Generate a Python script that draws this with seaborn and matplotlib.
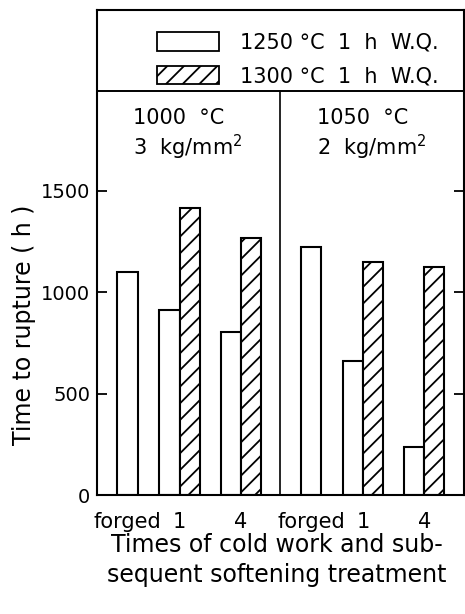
import numpy as np
import pandas as pd
import matplotlib
matplotlib.use("Agg")
import matplotlib.pyplot as plt
from matplotlib.patches import Patch
import seaborn as sns

# ---- data ----
conditions = ["1000 °C", "1050 °C"]
stresses = ["3 kg/mm$^{2}$", "2 kg/mm$^{2}$"]
treatments = ["forged", "1", "4"]
series = ["1250 °C 1 h W.Q.", "1300 °C 1 h W.Q."]
vals_1250_c1000 = [1100, 910, 805]
vals_1300_c1000 = [np.nan, 1415, 1265]
vals_1250_c1050 = [1220, 660, 235]
vals_1300_c1050 = [np.nan, 1150, 1125]
yticks = [0, 500, 1000, 1500]

# ---- layout ----
group_off = [0.5, 1.35, 2.35]
half = 0.165
panel_w = 3.0

rows = []
for p, (v1, v2) in enumerate([(vals_1250_c1000, vals_1300_c1000),
                              (vals_1250_c1050, vals_1300_c1050)]):
    for t, tr in enumerate(treatments):
        center = p * panel_w + group_off[t]
        pair = not np.isnan(v2[t])
        if pair:
            rows.append(dict(cond=conditions[p], treat=tr, series=series[0],
                             x=round(center - half, 4), value=v1[t]))
            rows.append(dict(cond=conditions[p], treat=tr, series=series[1],
                             x=round(center + half, 4), value=v2[t]))
        else:
            rows.append(dict(cond=conditions[p], treat=tr, series=series[0],
                             x=round(center, 4), value=v1[t]))
df = pd.DataFrame(rows)

sns.set_style("ticks")
plt.rcParams["font.family"] = ["DejaVu Sans"]
plt.rcParams["text.color"] = "black"
plt.rcParams["axes.labelcolor"] = "black"
plt.rcParams["xtick.color"] = "black"
plt.rcParams["ytick.color"] = "black"
plt.rcParams["hatch.linewidth"] = 1.3
plt.rcParams["hatch.color"] = "black"

fig = plt.figure(figsize=(4.65, 6.14), dpi=100)
ax = fig.add_axes([0.2086, 0.1938, 0.789, 0.79])

sns.barplot(data=df, x="x", y="value", hue="series", hue_order=series,
            native_scale=True, dodge=False, width=1.0,
            palette={series[0]: "white", series[1]: "white"}, saturation=1,
            edgecolor="black", linewidth=1.5, errorbar=None, legend=False, ax=ax)

for i, cont in enumerate(ax.containers):
    if i == 1:
        for bar in cont:
            bar.set_hatch("//")

ymax = 2390
sep = 1990
ax.set_xlim(0, 2 * panel_w)
ax.set_ylim(0, ymax)
ax.axhline(sep, color="black", lw=1.4)
ax.axvline(panel_w, ymin=0, ymax=sep / ymax, color="black", lw=1.2)

for s in ax.spines.values():
    s.set_visible(True)
    s.set_linewidth(1.5)
    s.set_color("black")

# ticks
centers = [p * panel_w + g for p in range(2) for g in group_off]
ax.set_xticks(centers)
ax.set_xticklabels(treatments * 2, fontsize=15)
ax.tick_params(axis="x", length=0, pad=12)
ax.set_yticks(yticks)
ax.set_yticklabels([str(v) for v in yticks], fontsize=14)
ax.tick_params(axis="y", direction="in", left=True, right=True, length=7,
               width=1.3, pad=5)

# panel texts
for p in range(2):
    ax.text(p * panel_w + 0.59, 1860, conditions[p].replace(" ", "  "),
            fontsize=15, va="center", ha="left")
    ax.text(p * panel_w + 0.59, 1712, stresses[p].replace(" ", "  "),
            fontsize=15, va="center", ha="left")

# legend
handles = [Patch(facecolor="white", edgecolor="black", linewidth=1.3),
           Patch(facecolor="white", edgecolor="black", linewidth=1.3, hatch="//")]
labels = [s.replace("C ", "C  ").replace("1 h", "1  h").replace("h W", "h  W")
          for s in series]
ax.legend(handles, labels, loc="upper left", bbox_to_anchor=(0.163, 0.954),
          frameon=False, handlelength=3.0, handleheight=1.0, handletextpad=1.0,
          labelspacing=0.62, borderpad=0, borderaxespad=0, fontsize=15)

ax.set_xlabel("Times of cold work and sub-\nsequent softening treatment",
              fontsize=17, linespacing=1.28)
ax.xaxis.set_label_coords(0.49, -0.079)
ax.set_ylabel("Time to rupture ( h )", fontsize=17)
ax.yaxis.set_label_coords(-0.165, 0.35)

fig.savefig("out.png", dpi=100)
